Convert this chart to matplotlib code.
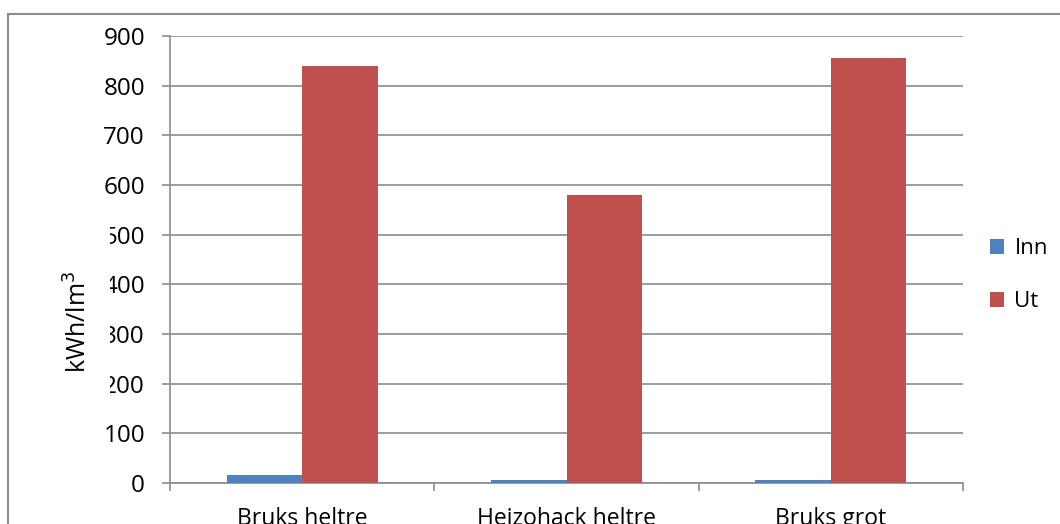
import matplotlib
matplotlib.use("Agg")
import matplotlib.pyplot as plt
from matplotlib.patches import Rectangle
import numpy as np

categories = ["Bruks heltre", "Heizohack heltre", "Bruks grot"]
inn = [17, 7, 6]
ut = [840, 580, 856]
series_names = ["Inn", "Ut"]
colors = ["#4F81BD", "#C0504D"]
yticks = [0, 100, 200, 300, 400, 500, 600, 700, 800, 900]

plt.rcParams['font.family'] = ['Open Sans', 'DejaVu Sans']

fig = plt.figure(figsize=(10.6, 5.24), dpi=100)
ax = fig.add_axes([170/1060, 1-483/524, 793/1060, 447/524])

x = np.arange(len(categories))
w = 0.285
b1 = ax.bar(x - w/2, inn, w, color=colors[0], label=series_names[0], zorder=3)
b2 = ax.bar(x + w/2, ut, w, color=colors[1], label=series_names[1], zorder=3)

ax.set_xlim(-0.5, len(categories) - 0.5)
ax.set_ylim(0, 900)
ax.set_yticks(yticks)
ax.set_yticklabels([str(t) for t in yticks], fontsize=17.5)
ax.yaxis.grid(True, color="#8c8c8c", linewidth=1.2, zorder=0)
ax.set_axisbelow(True)

ax.set_xticks(x)
ax.set_xticklabels(categories, fontsize=16.5)
ax.tick_params(axis='x', which='major', length=0, pad=17)
ax.set_xticks(np.arange(len(categories) + 1) - 0.5, minor=True)
ax.tick_params(axis='x', which='minor', length=6, width=1.2, color="#8c8c8c", direction='out')
ax.tick_params(axis='y', length=6, width=1.2, color="#8c8c8c", pad=12)

for s in ["top", "right"]:
    ax.spines[s].set_visible(False)
for s in ["left", "bottom"]:
    ax.spines[s].set_color("#8c8c8c")
    ax.spines[s].set_linewidth(1.2)

# white box of the axis title, overlapping the tick labels as in the reference
fig.patches.append(Rectangle((50/1060, 1-402/524), 60/1060, 180/524, transform=fig.transFigure,
                             facecolor='white', edgecolor='none', zorder=2))
fig.text(79/1060, 1-322/524, "kWh/lm$^3$", rotation=90, ha='center', va='center',
         fontsize=18, zorder=3)

leg = fig.legend(handles=[b1, b2], labels=series_names, loc='upper left',
                 bbox_to_anchor=(990/1060, 1-238/524), frameon=False, fontsize=16,
                 borderpad=0, borderaxespad=0,
                 handlelength=0.65, handleheight=0.65, handletextpad=0.45, labelspacing=1.45)

fig.patches.append(Rectangle((8/1060, -0.1), 1.2, 1-14/524+0.1, transform=fig.transFigure,
                             fill=False, edgecolor="#8c8c8c", linewidth=1.5, clip_on=False))

fig.savefig("out.png", dpi=100)
